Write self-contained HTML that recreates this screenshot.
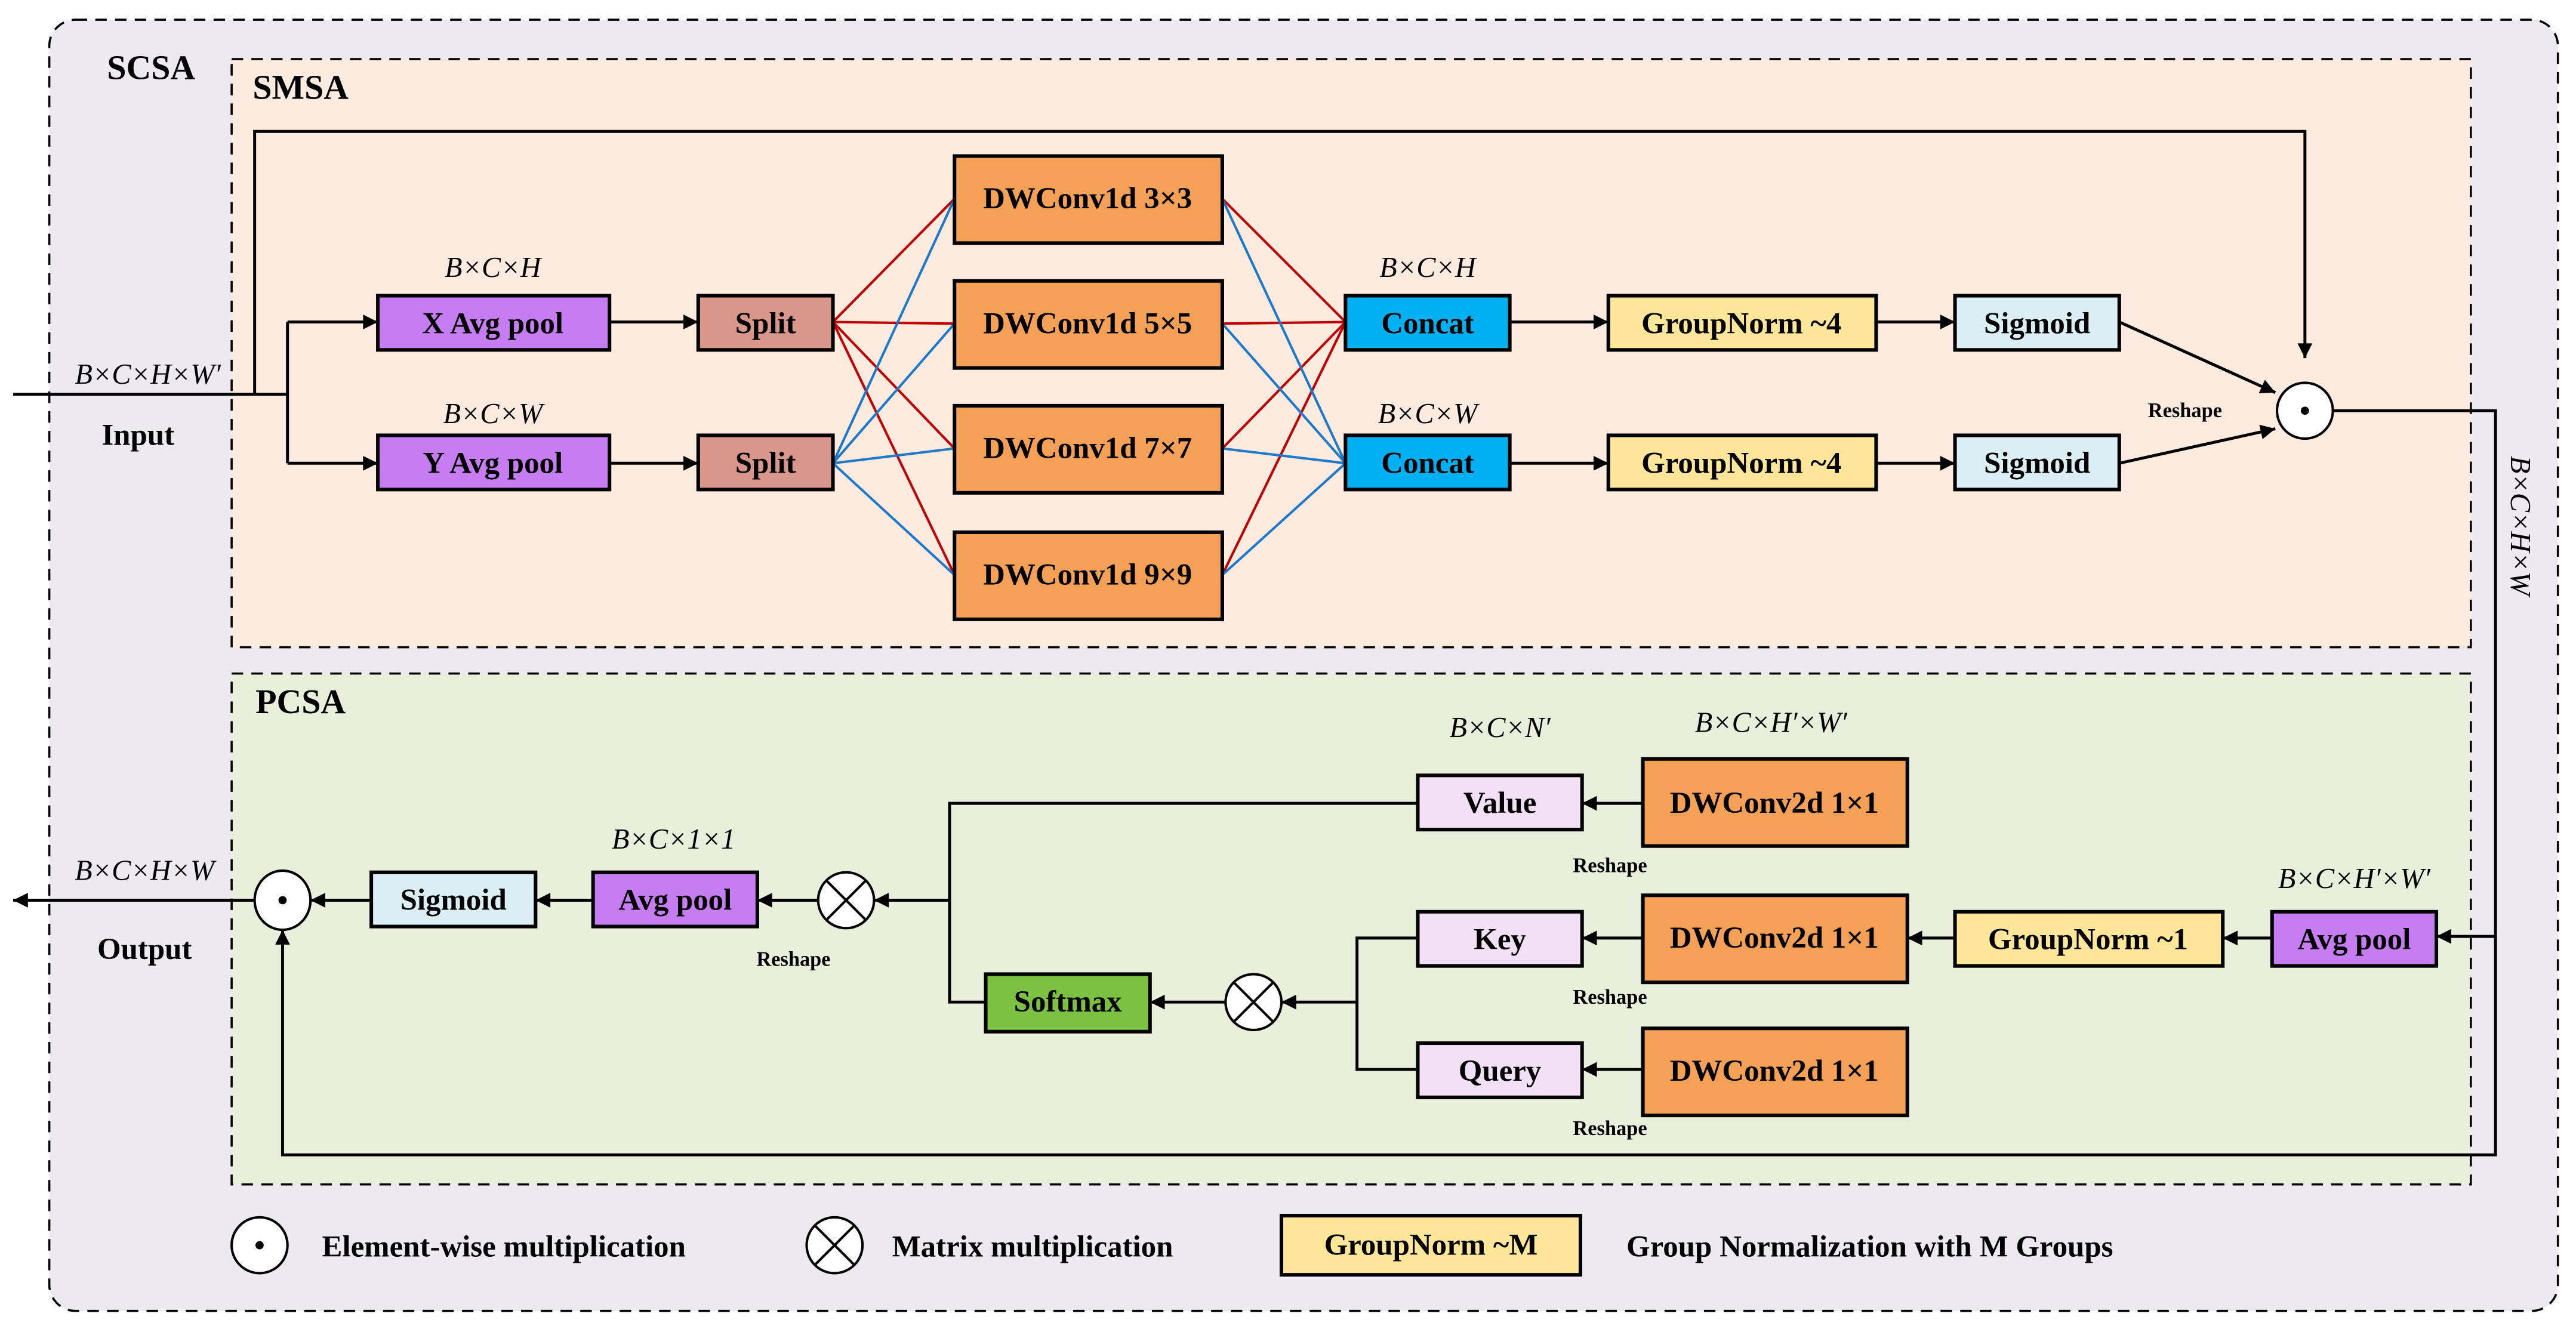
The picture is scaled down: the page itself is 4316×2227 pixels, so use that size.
<!DOCTYPE html>
<html><head><meta charset="utf-8"><style>
html,body{margin:0;padding:0;background:#fff;}
svg{display:block;}
text{font-family:"Liberation Serif",serif;}
.b{font-weight:bold;font-size:18.5px;text-anchor:middle;dominant-baseline:central;}
.i{font-style:italic;font-size:17.5px;text-anchor:middle;dominant-baseline:central;}
.s{font-weight:bold;font-size:12.5px;text-anchor:middle;dominant-baseline:central;}
.box{stroke:#000;stroke-width:2.2;}
.ln{stroke:#000;stroke-width:1.8;fill:none;}
.r{stroke:#c00000;stroke-width:1.5;}
.bl{stroke:#1f78c8;stroke-width:1.5;}
</style></head><body>
<svg width="4316" height="2227" viewBox="0 0 1568 809" preserveAspectRatio="none" xmlns="http://www.w3.org/2000/svg">
<defs>
<marker id="a" viewBox="0 0 10 10" refX="10" refY="5" markerWidth="11" markerHeight="9" orient="auto" markerUnits="userSpaceOnUse"><path d="M0,0 L10,5 L0,10 z" fill="#000"/></marker>
</defs>
<rect x="30" y="12" width="1527" height="786" rx="16" fill="#ece9f1" stroke="#000" stroke-width="1.3" stroke-dasharray="7,5"/>
<rect x="141" y="36" width="1363" height="358" fill="#fdebdf" stroke="#000" stroke-width="1.3" stroke-dasharray="7,5"/>
<rect x="141" y="410" width="1363" height="311" fill="#eaefdc" stroke="#000" stroke-width="1.3" stroke-dasharray="7,5"/>
<text x="92" y="41" class="b" style="font-size:21px">SCSA</text>
<text x="183" y="53" class="b" style="font-size:21px">SMSA</text>
<text x="183" y="427" class="b" style="font-size:21px">PCSA</text>

<g>
<line class="r" x1="507" y1="196" x2="581" y2="121"/><line class="r" x1="507" y1="196" x2="581" y2="197"/><line class="r" x1="507" y1="196" x2="581" y2="273"/><line class="r" x1="507" y1="196" x2="581" y2="350"/>
<line class="bl" x1="507" y1="282" x2="581" y2="121"/><line class="bl" x1="507" y1="282" x2="581" y2="197"/><line class="bl" x1="507" y1="282" x2="581" y2="273"/><line class="bl" x1="507" y1="282" x2="581" y2="350"/>
<line class="r" x1="744" y1="121" x2="819" y2="196"/><line class="r" x1="744" y1="197" x2="819" y2="196"/><line class="r" x1="744" y1="273" x2="819" y2="196"/><line class="r" x1="744" y1="350" x2="819" y2="196"/>
<line class="bl" x1="744" y1="121" x2="819" y2="282"/><line class="bl" x1="744" y1="197" x2="819" y2="282"/><line class="bl" x1="744" y1="273" x2="819" y2="282"/><line class="bl" x1="744" y1="350" x2="819" y2="282"/>
</g>

<path class="ln" d="M8,240 H175"/>
<path class="ln" d="M175,196 V282"/>
<path class="ln" d="M175,196 H230" marker-end="url(#a)"/>
<path class="ln" d="M175,282 H230" marker-end="url(#a)"/>
<path class="ln" d="M155,240 V80 H1403 V218" marker-end="url(#a)"/>
<path class="ln" d="M371,196 H425" marker-end="url(#a)"/>
<path class="ln" d="M371,282 H425" marker-end="url(#a)"/>
<path class="ln" d="M919,196 H979" marker-end="url(#a)"/>
<path class="ln" d="M919,282 H979" marker-end="url(#a)"/>
<path class="ln" d="M1142,196 H1190" marker-end="url(#a)"/>
<path class="ln" d="M1142,282 H1190" marker-end="url(#a)"/>
<path class="ln" d="M1290,196 L1385,239" marker-end="url(#a)"/>
<path class="ln" d="M1290,282 L1385,261" marker-end="url(#a)"/>
<path class="ln" d="M1420,250 H1519 V703 H172 V566" marker-end="url(#a)"/>
<path class="ln" d="M1519,570 H1483" marker-end="url(#a)"/>

<rect class="box" x="230" y="180" width="141" height="33" fill="#c77df2"/><text class="b" x="300" y="197">X Avg pool</text>
<rect class="box" x="230" y="265" width="141" height="33" fill="#c77df2"/><text class="b" x="300" y="282">Y Avg pool</text>
<rect class="box" x="425" y="180" width="82" height="33" fill="#d9968b"/><text class="b" x="466" y="197">Split</text>
<rect class="box" x="425" y="265" width="82" height="33" fill="#d9968b"/><text class="b" x="466" y="282">Split</text>
<rect class="box" x="581" y="95" width="163" height="53" fill="#f4a057"/><text class="b" x="662" y="121">DWConv1d 3×3</text>
<rect class="box" x="581" y="171" width="163" height="53" fill="#f4a057"/><text class="b" x="662" y="197">DWConv1d 5×5</text>
<rect class="box" x="581" y="247" width="163" height="53" fill="#f4a057"/><text class="b" x="662" y="273">DWConv1d 7×7</text>
<rect class="box" x="581" y="324" width="163" height="53" fill="#f4a057"/><text class="b" x="662" y="350">DWConv1d 9×9</text>
<rect class="box" x="819" y="180" width="100" height="33" fill="#00b0f0"/><text class="b" x="869" y="197">Concat</text>
<rect class="box" x="819" y="265" width="100" height="33" fill="#00b0f0"/><text class="b" x="869" y="282">Concat</text>
<rect class="box" x="979" y="180" width="163" height="33" fill="#ffe699"/><text class="b" x="1060" y="197">GroupNorm ~4</text>
<rect class="box" x="979" y="265" width="163" height="33" fill="#ffe699"/><text class="b" x="1060" y="282">GroupNorm ~4</text>
<rect class="box" x="1190" y="180" width="100" height="33" fill="#daeef3"/><text class="b" x="1240" y="197">Sigmoid</text>
<rect class="box" x="1190" y="265" width="100" height="33" fill="#daeef3"/><text class="b" x="1240" y="282">Sigmoid</text>
<circle cx="1403" cy="250" r="17" fill="#fff" stroke="#000" stroke-width="1.5"/><circle cx="1403" cy="250" r="2.5"/>

<text class="i" x="90" y="228">B×C×H×W′</text>
<text class="b" x="84" y="265">Input</text>
<text class="i" x="300" y="163">B×C×H</text>
<text class="i" x="300" y="252">B×C×W</text>
<text class="i" x="869" y="163">B×C×H</text>
<text class="i" x="869" y="252">B×C×W</text>
<text class="s" x="1330" y="250">Reshape</text>
<text class="i" transform="translate(1534,320) rotate(90)" x="0" y="0">B×C×H×W</text>

<path class="ln" d="M1383,571 H1353" marker-end="url(#a)"/>
<path class="ln" d="M1190,571 H1161" marker-end="url(#a)"/>
<path class="ln" d="M1000,489 H963" marker-end="url(#a)"/>
<path class="ln" d="M1000,571 H963" marker-end="url(#a)"/>
<path class="ln" d="M1000,651 H963" marker-end="url(#a)"/>
<path class="ln" d="M863,571 H826 V651 H863"/>
<path class="ln" d="M826,610 H780" marker-end="url(#a)"/>
<path class="ln" d="M746,610 H700" marker-end="url(#a)"/>
<path class="ln" d="M863,489 H578 V610 H600"/>
<path class="ln" d="M578,548 H532" marker-end="url(#a)"/>
<path class="ln" d="M498,548 H461" marker-end="url(#a)"/>
<path class="ln" d="M361,548 H326" marker-end="url(#a)"/>
<path class="ln" d="M226,548 H189" marker-end="url(#a)"/>
<path class="ln" d="M155,548 H8" marker-end="url(#a)"/>

<rect class="box" x="1383" y="555" width="100" height="33" fill="#c77df2"/><text class="b" x="1433" y="572">Avg pool</text>
<rect class="box" x="1190" y="555" width="163" height="33" fill="#ffe699"/><text class="b" x="1271" y="572">GroupNorm ~1</text>
<rect class="box" x="1000" y="462" width="161" height="53" fill="#f4a057"/><text class="b" x="1080" y="489">DWConv2d 1×1</text>
<rect class="box" x="1000" y="545" width="161" height="53" fill="#f4a057"/><text class="b" x="1080" y="571">DWConv2d 1×1</text>
<rect class="box" x="1000" y="626" width="161" height="53" fill="#f4a057"/><text class="b" x="1080" y="652">DWConv2d 1×1</text>
<rect class="box" x="863" y="472" width="100" height="33" fill="#f2e1f6"/><text class="b" x="913" y="489">Value</text>
<rect class="box" x="863" y="555" width="100" height="33" fill="#f2e1f6"/><text class="b" x="913" y="572">Key</text>
<rect class="box" x="863" y="635" width="100" height="33" fill="#f2e1f6"/><text class="b" x="913" y="652">Query</text>
<rect class="box" x="600" y="593" width="100" height="35" fill="#7cc142"/><text class="b" x="650" y="610">Softmax</text>
<rect class="box" x="361" y="531" width="100" height="33" fill="#c77df2"/><text class="b" x="411" y="548">Avg pool</text>
<rect class="box" x="226" y="531" width="100" height="33" fill="#daeef3"/><text class="b" x="276" y="548">Sigmoid</text>
<g stroke="#000" stroke-width="1.5"><circle cx="763" cy="610" r="17" fill="#fff"/><line x1="751" y1="598" x2="775" y2="622"/><line x1="775" y1="598" x2="751" y2="622"/>
<circle cx="515" cy="548" r="17" fill="#fff"/><line x1="503" y1="536" x2="527" y2="560"/><line x1="527" y1="536" x2="503" y2="560"/></g>
<ellipse cx="172" cy="548" rx="17" ry="18" fill="#fff" stroke="#000" stroke-width="1.5"/><circle cx="172" cy="548" r="2.5"/>

<text class="i" x="1433" y="535">B×C×H′×W′</text>
<text class="i" x="913" y="443">B×C×N′</text>
<text class="i" x="1078" y="440">B×C×H′×W′</text>
<text class="s" x="980" y="527">Reshape</text>
<text class="s" x="980" y="607">Reshape</text>
<text class="s" x="980" y="687">Reshape</text>
<text class="i" x="410" y="511">B×C×1×1</text>
<text class="s" x="483" y="584">Reshape</text>
<text class="i" x="88" y="530">B×C×H×W</text>
<text class="b" x="88" y="578">Output</text>

<circle cx="158" cy="758" r="17" fill="#fff" stroke="#000" stroke-width="1.5"/><circle cx="158" cy="758" r="2.5"/>
<text class="b" x="196" y="759" style="text-anchor:start">Element-wise multiplication</text>
<g stroke="#000" stroke-width="1.5"><circle cx="508" cy="758" r="17" fill="#fff"/><line x1="496" y1="746" x2="520" y2="770"/><line x1="520" y1="746" x2="496" y2="770"/></g>
<text class="b" x="543" y="759" style="text-anchor:start">Matrix multiplication</text>
<rect class="box" x="780" y="740" width="182" height="36" fill="#ffe699"/><text class="b" x="871" y="758">GroupNorm ~M</text>
<text class="b" x="990" y="759" style="text-anchor:start">Group Normalization with M Groups</text>
</svg>
</body></html>
